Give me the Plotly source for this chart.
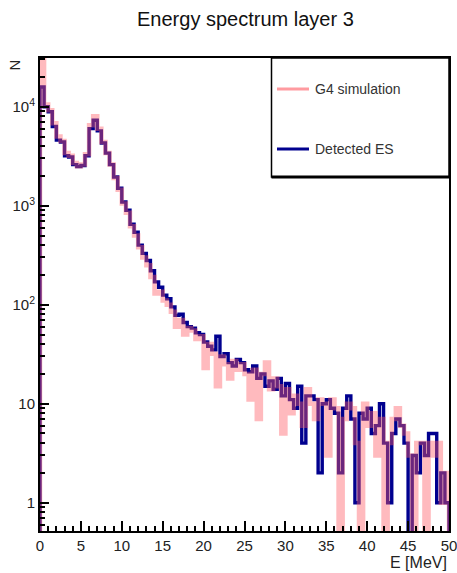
import numpy as np
import plotly.graph_objects as go

# ---- data: 100 bins of 0.5 MeV from 0 to 50 MeV ----
bin_edges = np.linspace(0, 50, 101)

detected_es = [
    15800, 10000, 8900, 6300, 4600, 4400, 3200, 3100, 2600, 2480,
    2550, 3200, 6000, 7300, 5700, 4300, 3400, 2600, 1950, 1500,
    1090, 900, 650, 540, 400, 330, 280, 220, 170, 150,
    125, 115, 95, 78, 80, 66, 60, 58, 52, 50,
    42, 38, 35, 48, 30, 32, 26, 24, 28, 26,
    22, 21, 24, 18, 20, 15, 17, 14, 18, 12,
    16, 11, 9, 15, 4, 12, 12, 11, 2, 10,
    11, 9, 8, 2, 9, 12, 7, 1, 8, 7,
    9, 5, 6, 10, 4, 1, 5, 7, 6, 4,
    0, 3, 2, 4, 3, 5, 5, 1, 2, 1,
]

g4_simulation = [
    45000, 10500, 9200, 6800, 5000, 4500, 3400, 3200, 2700, 2500,
    2600, 3300, 6500, 8000, 6000, 4400, 3400, 2600, 1900, 1450,
    1050, 850, 620, 500, 380, 300, 250, 190, 130, 135,
    110, 100, 85, 60, 70, 50, 58, 55, 45, 48,
    23, 40, 32, 15, 30, 25, 18, 27, 22, 25,
    20, 11, 22, 7, 20, 26, 14, 18, 15, 5,
    14, 8, 12, 10, 6, 14, 10, 7, 11, 10,
    3, 11, 9, 0, 7, 10, 9, 4, 0, 10,
    6, 8, 3, 7, 0, 4, 7, 9, 6, 5,
    3, 0, 4, 4, 0, 4, 3, 4, 1, 2,
]

y_tick_vals = [1, 10, 100, 1000, 10000]
y_tick_text = ["1", "10", "10<sup>2</sup>", "10<sup>3</sup>", "10<sup>4</sup>"]
x_tick_vals = [0, 5, 10, 15, 20, 25, 30, 35, 40, 45, 50]

FLOOR = 1e-2  # empty bins drop below the visible range (as in ROOT)


def step_xy(values):
    v = np.asarray(values, dtype=float)
    v = np.where(v > 0, v, FLOOR)
    xs = np.concatenate([[bin_edges[0]], bin_edges[:-1], [bin_edges[-1], bin_edges[-1]]])
    ys = np.concatenate([[FLOOR], v, [v[-1], FLOOR]])
    return xs, ys


BLUE = "#00008f"
PINK = "rgba(255,90,100,0.42)"
TXT = "#222"

fig = go.Figure()
bx, by = step_xy(detected_es)
fig.add_trace(go.Scatter(x=bx, y=by, mode="lines", line_shape="hv",
                         line=dict(color=BLUE, width=3.4), name="Detected ES",
                         showlegend=False))
rx, ry = step_xy(g4_simulation)
fig.add_trace(go.Scatter(x=rx, y=ry, mode="lines", line_shape="hv",
                         line=dict(color=PINK, width=4.5), name="G4 simulation",
                         showlegend=False))

minor_y = [m * 10 ** d for d in range(-1, 5) for m in range(2, 10)]

fig.update_layout(
    width=457, height=573,
    margin=dict(l=40, r=8, t=58, b=42, autoexpand=False),
    paper_bgcolor="white", plot_bgcolor="white",
    font=dict(family="Liberation Sans, Arial, sans-serif", color=TXT, size=15),
    title=dict(text="Energy spectrum layer 3", x=0.537, xanchor="center",
               y=1 - 19 / 573, yanchor="middle",
               font=dict(size=20, color="#111")),
    xaxis=dict(range=[0, 50], showgrid=False, zeroline=False, automargin=False,
               ticklabeloverflow="allow",
               showline=True, linecolor="black", linewidth=2, mirror=True,
               tickmode="array", tickvals=x_tick_vals,
               ticks="inside", ticklen=10, tickwidth=1.5, tickcolor="black",
               minor=dict(dtick=1, tick0=0, ticks="inside", ticklen=5,
                          tickwidth=1.5, tickcolor="black", showgrid=False),
               tickfont=dict(size=15, color=TXT)),
    yaxis=dict(type="log", range=[-0.286, 4.492], showgrid=False, zeroline=False,
               automargin=False, ticklabeloverflow="allow",
               showline=True, linecolor="black", linewidth=2, mirror=True,
               tickmode="array", tickvals=y_tick_vals, ticktext=y_tick_text,
               ticks="inside", ticklen=9, tickwidth=1.5, tickcolor="black",
               minor=dict(tickmode="array", tickvals=minor_y, ticks="inside",
                          ticklen=5, tickwidth=1.5, tickcolor="black", showgrid=False),
               tickfont=dict(size=15, color=TXT)),
)

# axis titles (ROOT style: at the ends of the axes)
fig.add_annotation(text="E [MeV]", xref="paper", yref="paper", x=1.0, y=-42 / 473,
                   xanchor="right", yanchor="bottom", showarrow=False,
                   font=dict(size=16, color=TXT))
fig.add_annotation(text="N", xref="paper", yref="paper", x=-26 / 409, y=1.0,
                   xanchor="center", yanchor="top", textangle=-90, showarrow=False,
                   font=dict(size=15, color=TXT))

# legend box (ROOT TLegend style)
lx0, lx1 = (271.5 - 40) / 409, 1.0
ly1, ly0 = 1.0, 1 - (177 - 58) / 473
fig.add_shape(type="rect", xref="paper", yref="paper", x0=lx0, x1=lx1, y0=ly0, y1=ly1,
              line=dict(color="black", width=1.5), fillcolor="white", layer="above")
fig.add_shape(type="line", xref="paper", yref="paper", x0=lx0, x1=lx1, y0=ly0, y1=ly0,
              line=dict(color="black", width=3), layer="above")
entries = [("G4 simulation", "rgba(255,155,160,1)", 89), ("Detected ES", BLUE, 149)]
for label, col, ypx in entries:
    yp = 1 - (ypx - 58) / 473
    fig.add_shape(type="line", xref="paper", yref="paper",
                  x0=(277 - 40) / 409, x1=(309 - 40) / 409, y0=yp, y1=yp,
                  line=dict(color=col, width=3), layer="above")
    fig.add_annotation(text=label, xref="paper", yref="paper", x=(313 - 40) / 409, y=yp,
                       xanchor="left", yanchor="middle", showarrow=False,
                       font=dict(size=14, color="#333"))

fig.write_html("out.html")
